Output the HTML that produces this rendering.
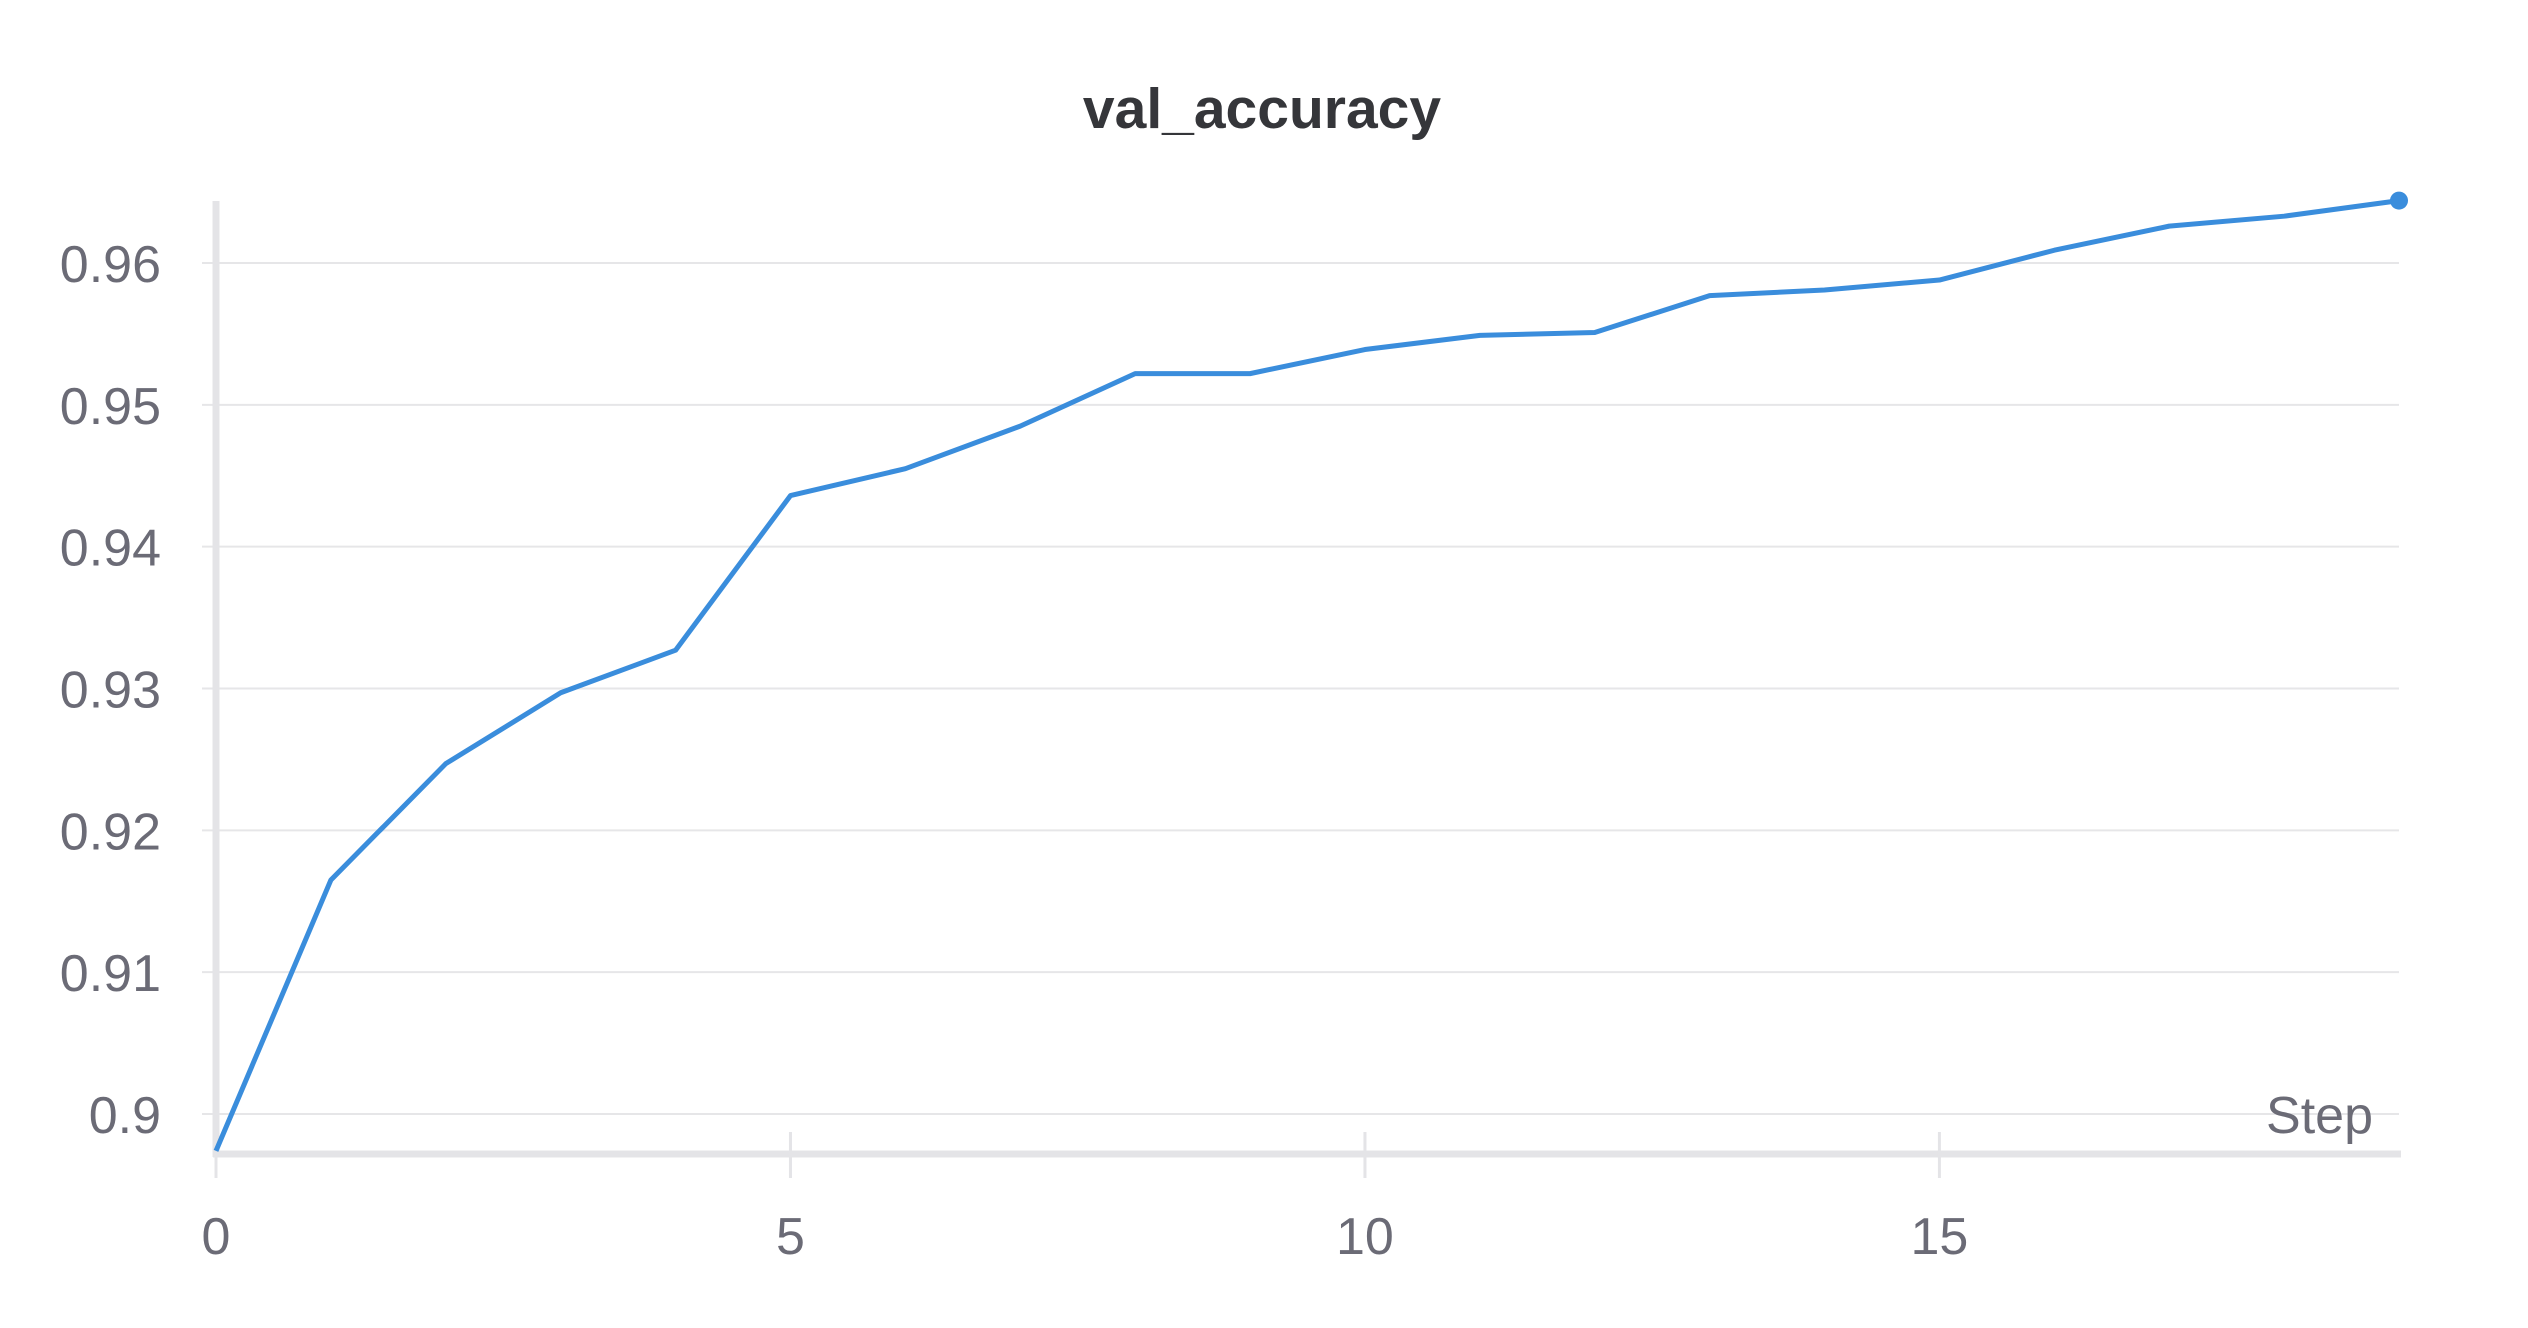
<!DOCTYPE html>
<html><head><meta charset="utf-8"><style>
html,body{margin:0;padding:0;background:#fff;width:2528px;height:1328px;overflow:hidden}
svg{display:block}
text{font-family:"Liberation Sans",sans-serif}
</style></head><body>
<svg id="chart" width="2528" height="1328" viewBox="0 0 2528 1328" xmlns="http://www.w3.org/2000/svg">
<text x="1262" y="128" text-anchor="middle" font-size="57" font-weight="bold" fill="#35363a">val_accuracy</text>
<g id="grid"></g><g id="axes"></g><g id="series"></g>
</svg>
<script>
const steps=[0,1,2,3,4,5,6,7,8,9,10,11,12,13,14,15,16,17,18,19];
const accuracy=[0.8974,0.9165,0.9247,0.9297,0.9327,0.9436,0.9455,0.9485,0.9522,0.9522,0.9539,0.9549,0.9551,0.9577,0.9581,0.9588,0.9609,0.9626,0.9633,0.9644];
const yTicks=[0.9,0.91,0.92,0.93,0.94,0.95,0.96];
const yTickLabels=["0.9","0.91","0.92","0.93","0.94","0.95","0.96"];
const xTicks=[0,5,10,15];
const NS="http://www.w3.org/2000/svg";
const x0=216,x1=2399,yTop=201,yBase=1154;
const sx=v=>x0+(v-0)/(19-0)*(x1-x0);
const sy=v=>1114-(v-0.9)/0.06*(1114-263);
function mk(tag,attrs,parent){const e=document.createElementNS(NS,tag);for(const k in attrs)e.setAttribute(k,attrs[k]);parent.appendChild(e);return e;}
const grid=document.getElementById('grid'),axes=document.getElementById('axes'),series=document.getElementById('series');
yTicks.forEach((t,i)=>{
  const g=mk('line',{x1:x0-14,x2:x1,y1:sy(t),y2:sy(t),stroke:'#e6e6e8','stroke-width':2},grid);
  
  
  const lb=mk('text',{x:161,y:sy(t)+19,'text-anchor':'end','font-size':52,fill:'#6b6b76'},axes);
  lb.textContent=yTickLabels[i];
  
  
});
const ya=mk('line',{x1:x0,x2:x0,y1:yTop,y2:yBase+3,stroke:'#e4e4e7','stroke-width':7},axes);


const xa=mk('line',{x1:x0-3,x2:x1+2,y1:yBase,y2:yBase,stroke:'#e4e4e7','stroke-width':7},axes);


xTicks.forEach(t=>{
  const tk=mk('line',{x1:sx(t),x2:sx(t),y1:yBase-22,y2:yBase+24,stroke:'#e4e4e7','stroke-width':3},axes);
  
  
  const lb=mk('text',{x:sx(t),y:1254,'text-anchor':'middle','font-size':52,fill:'#6b6b76'},axes);
  lb.textContent=String(t);
  
  
});
const st=mk('text',{x:2373,y:1133,'text-anchor':'end','font-size':52,fill:'#6b6b76'},axes);
st.textContent='Step';


const pts=steps.map((s,i)=>sx(s)+','+sy(accuracy[i])).join(' ');
const pl=mk('polyline',{points:pts,fill:'none',stroke:'#3a8ddc','stroke-width':5,'stroke-linejoin':'round'},series);


const n=steps.length-1;
const dot=mk('circle',{cx:sx(steps[n]),cy:sy(accuracy[n]),r:9,fill:'#3a8ddc'},series);


</script>
</body></html>
